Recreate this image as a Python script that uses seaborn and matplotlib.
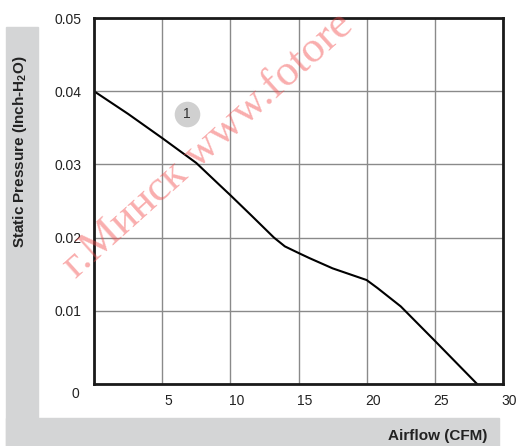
import numpy as np
import pandas as pd
import matplotlib.pyplot as plt
import matplotlib.transforms as mtransforms
from matplotlib.patches import Rectangle
import seaborn as sns

# Fan curve: static pressure vs airflow
airflow = [0, 2.5, 5, 7.5, 9.2, 10, 11.5, 13.2, 14, 15, 15.8, 17.5, 20, 20.8, 22.5, 25, 28.1]
pressure = [0.040, 0.0369, 0.0336, 0.0302, 0.0272, 0.0258, 0.0231, 0.0200, 0.0188, 0.0179,
            0.0172, 0.0158, 0.0142, 0.0131, 0.0106, 0.0059, 0.0]
x_ticks = [0, 5, 10, 15, 20, 25, 30]
y_ticks = [0, 0.01, 0.02, 0.03, 0.04, 0.05]
y_tick_labels = ['0', '0.01', '0.02', '0.03', '0.04', '0.05']

df = pd.DataFrame({'airflow': airflow, 'pressure': pressure})

sns.set_style('white')
plt.rcParams['font.family'] = ['Liberation Sans', 'DejaVu Sans']
plt.rcParams['mathtext.fontset'] = 'custom'
plt.rcParams['mathtext.rm'] = 'Liberation Sans:bold'
plt.rcParams['mathtext.default'] = 'rm'

fig = plt.figure(figsize=(5.19, 4.46), dpi=100)
gray = '#d4d5d6'
# L-shaped gray band behind the axis titles
fig.patches.append(Rectangle((6 / 519, 0), 32 / 519, 1 - 27 / 446,
                             transform=fig.transFigure, color=gray, zorder=0))
fig.patches.append(Rectangle((6 / 519, 0), 493 / 519, 28 / 446,
                             transform=fig.transFigure, color=gray, zorder=0))

ax = fig.add_axes([94 / 519, 1 - 384 / 446, 409 / 519, 366 / 446])
sns.lineplot(data=df, x='airflow', y='pressure', ax=ax, color='black', linewidth=1.5)

ax.set_xlim(0, 30)
ax.set_ylim(0, 0.05)
ax.set_xticks(x_ticks)
ax.set_xticklabels([''] + [str(t) for t in x_ticks[1:]])
ax.set_yticks(y_ticks)
ax.set_yticklabels(y_tick_labels)
ax.tick_params(length=0, labelsize=10, colors='#222222', pad=9)
ax.tick_params(axis='x', pad=7)
ax.grid(True, color='#8a8a8a', linewidth=1)
for s in ax.spines.values():
    s.set_visible(True)
    s.set_color('#1a1a1a')
    s.set_linewidth(2)
ax.set_xlabel('')
ax.set_ylabel('')

# nudge tick labels like the original
shift_x = mtransforms.ScaledTranslation(6 / 100, 0, fig.dpi_scale_trans)
for lab in ax.get_xticklabels():
    lab.set_transform(lab.get_transform() + shift_x)
zero_lab = ax.get_yticklabels()[0]
zero_lab.set_transform(zero_lab.get_transform()
                       + mtransforms.ScaledTranslation(-2 / 100, -8 / 100, fig.dpi_scale_trans))

# curve marker "1"
ax.scatter([6.8], [0.0369], s=340, color='#d0d0d0', zorder=5, linewidths=0)
ax.text(6.8, 0.0369, '1', ha='center', va='center', fontsize=10, color='#333333', zorder=6)

fig.text(20 / 519, 1 - 152 / 446, 'Static Pressure (Inch-H$_2$O)', rotation=90,
         ha='center', va='center', fontsize=11, fontweight='bold', color='#222222')
fig.text(487 / 519, 1 - 436 / 446, 'Airflow (CFM)', ha='right', va='center',
         fontsize=11, fontweight='bold', color='#222222')

# watermark (visible part only)
fig.text(76 / 519, 1 - 279 / 446, 'г.Минск www.fotore', rotation=42,
         rotation_mode='anchor', ha='left', va='baseline', fontsize=32,
         family=['Liberation Serif', 'DejaVu Serif'], color='#f24a4a', alpha=0.45, zorder=10)

fig.savefig('out.png', dpi=100)
